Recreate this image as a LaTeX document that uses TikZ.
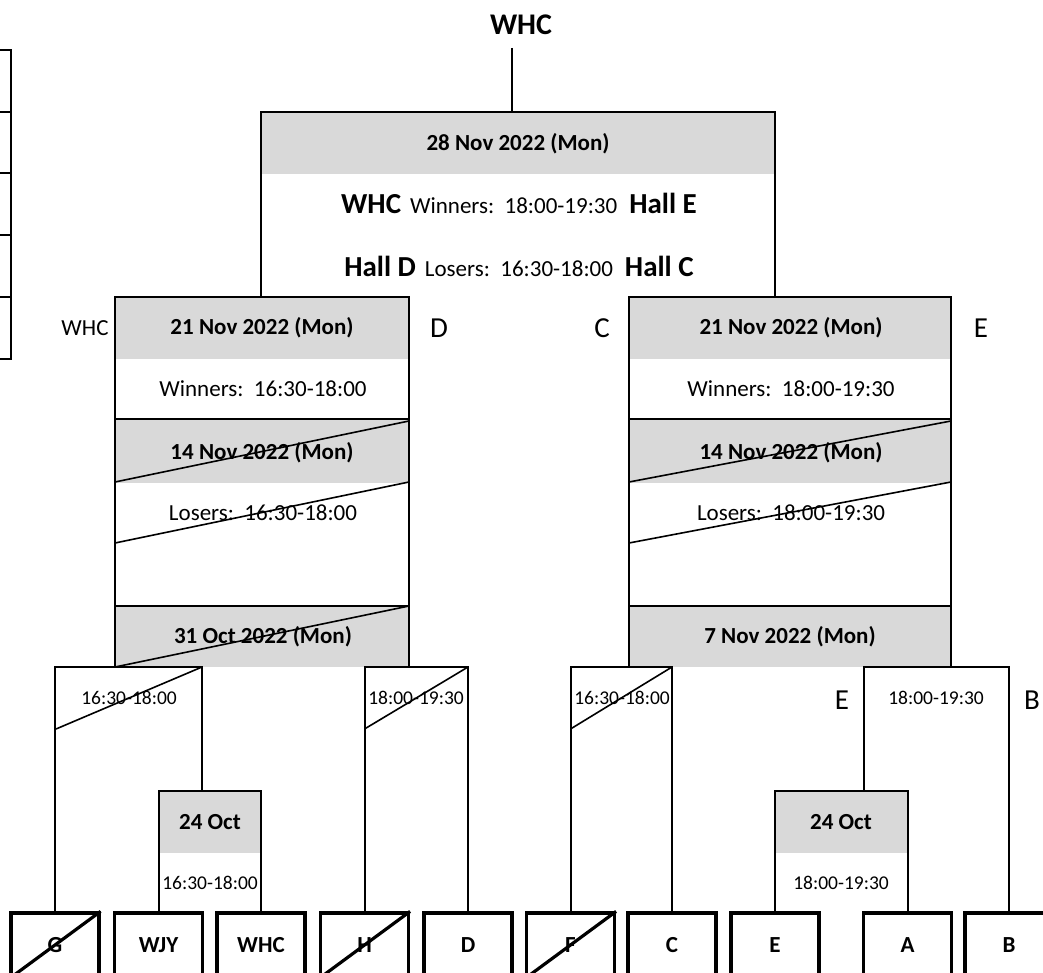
\documentclass[tikz,border=0pt]{standalone}
\usepackage{fontspec}
\setmainfont{Carlito}
\definecolor{band}{RGB}{217,217,217}
\newcommand{\fsz}[1]{\fontsize{#1}{#1}\selectfont}
\begin{document}
\begin{tikzpicture}[x=1pt,y=-1pt,
  frame/.style={line width=2pt},
  strike/.style={line width=1.6pt},
  txt/.style={inner sep=0pt, text height=14.8pt, text depth=0pt, font=\fsz{23}},
  bold/.style={txt, font=\bfseries\fsz{23}},
  small/.style={inner sep=0pt, text height=12.5pt, text depth=0pt, font=\fsz{19.5}},
  big/.style={inner sep=0pt, text height=18.7pt, text depth=0pt, font=\fsz{29}},
  mixed/.style={inner sep=0pt, text height=18.7pt, text depth=0pt, font=\fsz{23}},
  team/.style={draw, line width=3.2pt, minimum width=88pt, minimum height=64pt, inner sep=0pt,
    text height=14.8pt, text depth=0pt, font=\bfseries\fsz{23}}]
\useasboundingbox (0,0) rectangle (1043,973);

% team boxes
\node[team] (G)   at (55,945)    {G};
\node[team] (WJY) at (158.5,945) {WJY};
\node[team] (WHC) at (261,945)   {WHC};
\node[team] (H)   at (364.5,945) {H};
\node[team] (D)   at (468,945)   {D};
\node[team] (F)   at (570.5,945) {F};
\node[team] (C)   at (672,945)   {C};
\node[team] (E)   at (775,945)   {E};
\node[team] (A)   at (907.5,945) {A};
\node[team] (B)   at (1009,945)  {B};

% named coordinates
\coordinate (ftop) at (512,112);
\coordinate (tl) at (512,48);
\coordinate (brk) at (0,667);
\coordinate (oct) at (0,791);
\coordinate (octg) at (0,853);

% gray bands
\fill[band] (261,112) rectangle (775,174);
\fill[band] (115,297) rectangle (409,359);
\fill[band] (115,419) rectangle (409,483);
\fill[band] (115,606) rectangle (409,667);
\fill[band] (629,297) rectangle (951,359);
\fill[band] (629,419) rectangle (951,483);
\fill[band] (629,606) rectangle (951,667);
\fill[band] (WJY.north |- oct) rectangle (WHC.north |- octg);
\fill[band] (E.north |- oct) rectangle (A.north |- octg);

% title
\node[inner sep=0pt, text height=19.3pt, text depth=0pt, font=\bfseries\fsz{30}] (title) at (521,25) {WHC};
\draw[frame] (tl) -- (ftop);

% final box
\draw[frame] (261,297) -- (261,112) -- (775,112) -- (775,297);
\node[bold] (final) at (518,143) {28 Nov 2022 (Mon)};
\node[mixed] (fw) at (519,204) {{\bfseries\fsz{29}WHC}\hspace{9pt}Winners:\ \ 18:00-19:30\hspace{12pt}{\bfseries\fsz{29}Hall E}};
\node[mixed] (fl) at (519,267) {{\bfseries\fsz{29}Hall D}\hspace{9pt}Losers:\ \ 16:30-18:00\hspace{12pt}{\bfseries\fsz{29}Hall C}};

% left semi box
\draw[frame] (115,667) -- (115,297) -- (409,297) -- (409,667);
\draw[frame] (115,419) -- (409,419);
\draw[frame] (115,606) -- (409,606);
\node[bold] (l21) at (262,327) {21 Nov 2022 (Mon)};
\node[txt]  (lw)  at (263,389) {Winners:\ \ 16:30-18:00};
\node[bold] (l14) at (262,452) {14 Nov 2022 (Mon)};
\node[txt]  (ll)  at (263,513) {Losers:\ \ 16:30-18:00};
\node[bold] (l31) at (263,636) {31 Oct 2022 (Mon)};

% right semi box
\draw[frame] (629,667) -- (629,297) -- (951,297) -- (951,667);
\draw[frame] (629,419) -- (951,419);
\draw[frame] (629,606) -- (951,606);
\node[bold] (r21) at (791,327) {21 Nov 2022 (Mon)};
\node[txt]  (rw)  at (791,389) {Winners:\ \ 18:00-19:30};
\node[bold] (r14) at (791,452) {14 Nov 2022 (Mon)};
\node[txt]  (rl)  at (791,513) {Losers:\ \ 18:00-19:30};
\node[bold] (r7)  at (790,636) {7 Nov 2022 (Mon)};

% side labels
\node[txt] (sWHC) at (85,328) {WHC};
\node[big] (sD) at (439,328) {D};
\node[big] (sC) at (602,328) {C};
\node[big] (sE) at (981,328) {E};
\node[big] (sE2) at (842,700) {E};
\node[big] (sB) at (1032,700) {B};

% brackets
\draw[frame] (G.north) |- (202,667) -- (202,791);
\draw[frame] (H.north) |- (D.north |- brk) -- (D.north);
\draw[frame] (F.north) |- (C.north |- brk) -- (C.north);
\draw[frame] (864,791) |- (B.north |- brk) -- (B.north);
\node[small] (t1) at (129,698) {16:30-18:00};
\node[small] (t2) at (416,698) {18:00-19:30};
\node[small] (t3) at (622,698) {16:30-18:00};
\node[small] (t4) at (936,698) {18:00-19:30};

% 24 Oct boxes
\draw[frame] (WJY.north) |- (WHC.north |- oct) -- (WHC.north);
\draw[frame] (E.north) |- (A.north |- oct) -- (A.north);
\node[bold] (o1) at (210,822) {24 Oct};
\node[small] (o1t) at (210,883) {16:30-18:00};
\node[bold] (o2) at (841,822) {24 Oct};
\node[small] (o2t) at (841,883) {18:00-19:30};

% left edge table
\draw[frame] (-5,50) -- (11,50) -- (11,359) -- (-5,359);
\foreach \yy in {112,173,235,297} \draw[frame] (-5,\yy) -- (11,\yy);

% strike lines
\draw[strike] (115,482) -- (409,421);
\draw[strike] (115,543) -- (409,482);
\draw[strike] (115,667) -- (409,606);
\draw[strike] (629,482) -- (951,421);
\draw[strike] (629,543) -- (951,482);
\draw[strike] (56,729) -- (202,667);
\draw[strike] (364.5,729) -- (468,667);
\draw[strike] (570.5,729) -- (672,667);
\draw[line width=3.2pt] (G.south west) -- (G.north east);
\draw[line width=3.2pt] (H.south west) -- (H.north east);
\draw[line width=3.2pt] (F.south west) -- (F.north east);
\end{tikzpicture}
\end{document}
